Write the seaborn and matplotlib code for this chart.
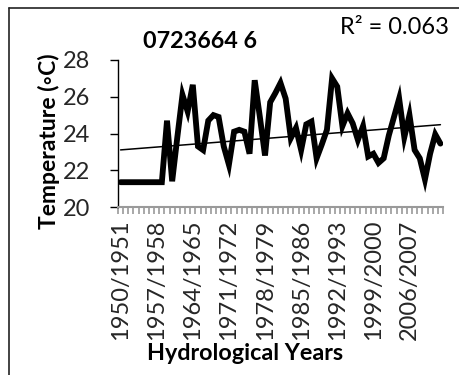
import numpy as np
import pandas as pd
import matplotlib
matplotlib.use("Agg")
import matplotlib.pyplot as plt
from matplotlib.ticker import FixedLocator
import seaborn as sns

# Hydrological years 1950/1951 .. 2012/2013
start_years = list(range(1950, 2013))
hydro_years = [f"{y}/{y + 1}" for y in start_years]

# Mean temperature (°C) for each hydrological year, station 0723664 6
temperature = [
    21.35, 21.35, 21.35, 21.35, 21.35, 21.35, 21.35, 21.35, 21.35, 24.7,
    21.4, 23.8, 26.1, 25.2, 26.65, 23.3, 23.1, 24.7, 25.0, 24.9,
    23.3, 22.3, 24.1, 24.2, 24.1, 22.9, 26.9, 24.9, 22.8, 25.7,
    26.2, 26.75, 25.9, 23.75, 24.3, 23.1, 24.5, 24.65, 22.65, 23.4,
    24.2, 27.0, 26.55, 24.4, 25.1, 24.55, 23.65, 24.4, 22.75, 22.9,
    22.4, 22.65, 23.9, 24.9, 25.9, 23.8, 25.0, 23.1, 22.65, 21.5,
    22.9, 23.95, 23.45,
]

station = "0723664 6"
y_ticks = [20, 22, 24, 26, 28]
label_step = 7

df = pd.DataFrame({"idx": np.arange(len(hydro_years)),
                   "year": hydro_years,
                   "temp": temperature})

# coefficient of determination of the linear trend
slope, intercept = np.polyfit(df["idx"], df["temp"], 1)
pred = slope * df["idx"] + intercept
r2 = 1 - ((df["temp"] - pred) ** 2).sum() / ((df["temp"] - df["temp"].mean()) ** 2).sum()

sns.set_theme(style="white")
plt.rcParams["font.family"] = ["Lato", "DejaVu Sans"]

W, H = 460, 375
fig = plt.figure(figsize=(W / 100, H / 100), dpi=100)
fig.patch.set_facecolor("white")

# chart frame (top and left edges visible)
fig.add_artist(plt.Line2D([9 / W, 9 / W], [0, 1 - 8 / H], transform=fig.transFigure,
                          color="#222222", lw=1.2))
fig.add_artist(plt.Line2D([9 / W, 1], [1 - 8 / H, 1 - 8 / H], transform=fig.transFigure,
                          color="#222222", lw=1.2))

ax = fig.add_axes([118 / W, 1 - 207 / H, (443 - 118) / W, (207 - 60) / H])

sns.lineplot(data=df, x="idx", y="temp", ax=ax, color="black", lw=4.2,
             solid_joinstyle="miter")
sns.regplot(data=df, x="idx", y="temp", ax=ax, scatter=False, ci=None,
            truncate=True, line_kws={"color": "black", "lw": 1.1})

ax.set_xlim(-0.5, len(hydro_years) - 0.5)
ax.set_ylim(y_ticks[0], y_ticks[-1])
ax.set_yticks(y_ticks)
ax.set_yticklabels([str(t) for t in y_ticks], fontsize=17)

major = list(range(0, len(hydro_years), label_step))
ax.set_xticks(major)
ax.set_xticklabels([hydro_years[i] for i in major], rotation=90, fontsize=17)
ax.xaxis.set_minor_locator(FixedLocator(np.arange(-0.5, len(hydro_years), 1.0)))
ax.tick_params(axis="x", which="major", length=0, pad=9)
ax.tick_params(axis="x", which="minor", length=5, width=1.2, color="#9a9a9a", bottom=True)
ax.tick_params(axis="y", which="major", length=6, width=1, color="black", pad=14,
               left=True, direction="out")

for s in ("top", "right"):
    ax.spines[s].set_visible(False)
ax.spines["left"].set_color("black")
ax.spines["left"].set_linewidth(1.0)
ax.spines["bottom"].set_color("#9a9a9a")
ax.spines["bottom"].set_linewidth(1.5)

ax.set_xlabel("")
ax.set_ylabel("")
fig.text(245 / W, 1 - 353 / H, "Hydrological Years", ha="center", va="center",
         fontsize=16.8, fontweight="bold", color="black")
fig.text(49 / W, 1 - 141 / H, "Temperature (\u25e6C)", ha="center", va="center",
         rotation=90, fontsize=16.5, fontweight="bold", color="black")

fig.text(200 / W, 1 - 41 / H, station, ha="center", va="center",
         fontsize=16.8, fontweight="bold", color="black")

fig.text(340 / W, 1 - 27 / H, f"R\u00b2 = {r2:.3f}", ha="left", va="center",
         fontsize=17, color="black")

fig.savefig("out.png", dpi=100, facecolor="white")
